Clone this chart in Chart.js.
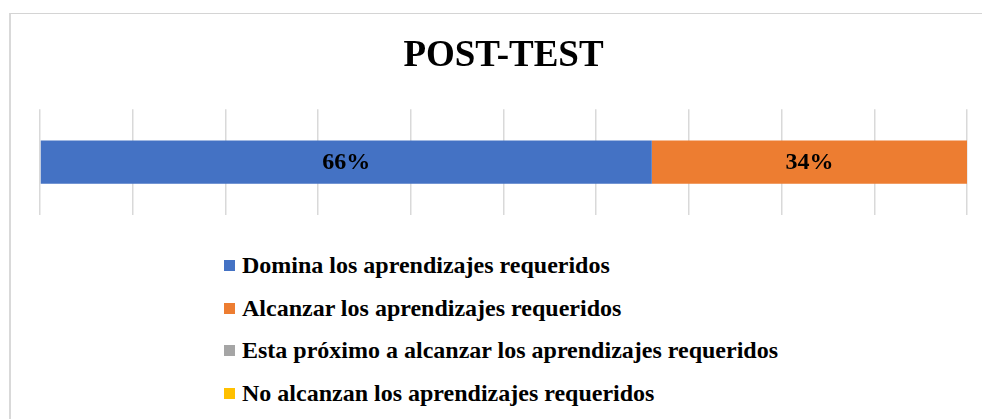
<!DOCTYPE html>
<html>
<head>
<meta charset="utf-8">
<script src="https://cdn.jsdelivr.net/npm/chart.js@4/dist/chart.umd.min.js"></script>
<style>
  html, body { margin: 0; padding: 0; background: #ffffff; width: 982px; height: 419px; overflow: hidden; }
  #frame { position: absolute; left: 9px; top: 13px; width: 990px; height: 420px;
           border-left: 2px solid #d9d9d9; border-top: 1px solid #d4d4d4; }
  #wrap { position: absolute; left: 0; top: 0; width: 982px; height: 222px; }
  #legend { position: absolute; left: 224px; top: 244.5px; font-family: "Liberation Serif", "Times New Roman", serif;
            font-weight: bold; font-size: 24px; color: #000; }
  #legend .row { display: flex; align-items: center; height: 42.6px; white-space: nowrap; }
  #legend .box { width: 11px; height: 11px; margin-right: 7px; flex: none; }
</style>
</head>
<body>
<div id="frame"></div>
<div id="wrap"><canvas id="c"></canvas></div>
<div id="legend"></div>
<script>
const chartTitle = "POST-TEST";
const categories = ["POST-TEST"];
const seriesLabels = [
  "Domina los aprendizajes requeridos",
  "Alcanzar los aprendizajes requeridos",
  "Esta próximo a alcanzar los aprendizajes requeridos",
  "No alcanzan los aprendizajes requeridos"
];
const seriesValues = [
  [0.66],
  [0.34],
  [0],
  [0]
];
const seriesColors = ["#4472C4", "#ED7D31", "#A5A5A5", "#FFC000"];
const xTicks = [0, 0.1, 0.2, 0.3, 0.4, 0.5, 0.6, 0.7, 0.8, 0.9, 1];

const serif = "'Liberation Serif', 'Times New Roman', serif";

const valueLabels = {
  id: "valueLabels",
  afterDatasetsDraw(chart) {
    const ctx = chart.ctx;
    ctx.save();
    ctx.font = "bold 24px " + serif;
    ctx.fillStyle = "#000000";
    ctx.textAlign = "center";
    ctx.textBaseline = "middle";
    chart.data.datasets.forEach((ds, di) => {
      const meta = chart.getDatasetMeta(di);
      if (meta.hidden) return;
      meta.data.forEach((el, i) => {
        const v = ds.data[i];
        if (!v) return;
        const cx = (el.x + el.base) / 2;
        ctx.fillText(Math.round(v * 100) + "%", cx, el.y + 1);
      });
    });
    ctx.restore();
  }
};

const chart = new Chart(document.getElementById("c"), {
  type: "bar",
  data: {
    labels: categories,
    datasets: seriesLabels.map((lab, i) => ({
      label: lab,
      data: seriesValues[i],
      backgroundColor: seriesColors[i],
      borderWidth: 0,
      categoryPercentage: 1,
      barPercentage: 0.41
    }))
  },
  options: {
    indexAxis: "y",
    responsive: true,
    maintainAspectRatio: false,
    animation: false,
    layout: { padding: { left: 40, right: 15, top: 34, bottom: 7 } },
    plugins: {
      legend: { display: false },
      tooltip: { enabled: false },
      title: {
        display: true,
        text: chartTitle,
        color: "#000000",
        font: { family: serif, size: 37, weight: "bold" },
        padding: { top: 0, bottom: 30.8 }
      }
    },
    scales: {
      x: {
        stacked: true,
        min: 0,
        max: 1,
        afterBuildTicks(scale) { scale.ticks = xTicks.map(v => ({ value: v })); },
        ticks: { display: false },
        grid: { color: "#d9d9d9", lineWidth: 1.5, drawTicks: false },
        border: { display: false }
      },
      y: {
        stacked: true,
        display: false,
        grid: { display: false }
      }
    }
  },
  plugins: [valueLabels]
});

// HTML legend built from the chart's datasets
const legendEl = document.getElementById("legend");
chart.data.datasets.forEach(ds => {
  const row = document.createElement("div");
  row.className = "row";
  const box = document.createElement("span");
  box.className = "box";
  box.style.background = ds.backgroundColor;
  const txt = document.createElement("span");
  txt.textContent = ds.label;
  row.appendChild(box);
  row.appendChild(txt);
  legendEl.appendChild(row);
});
</script>
</body>
</html>
